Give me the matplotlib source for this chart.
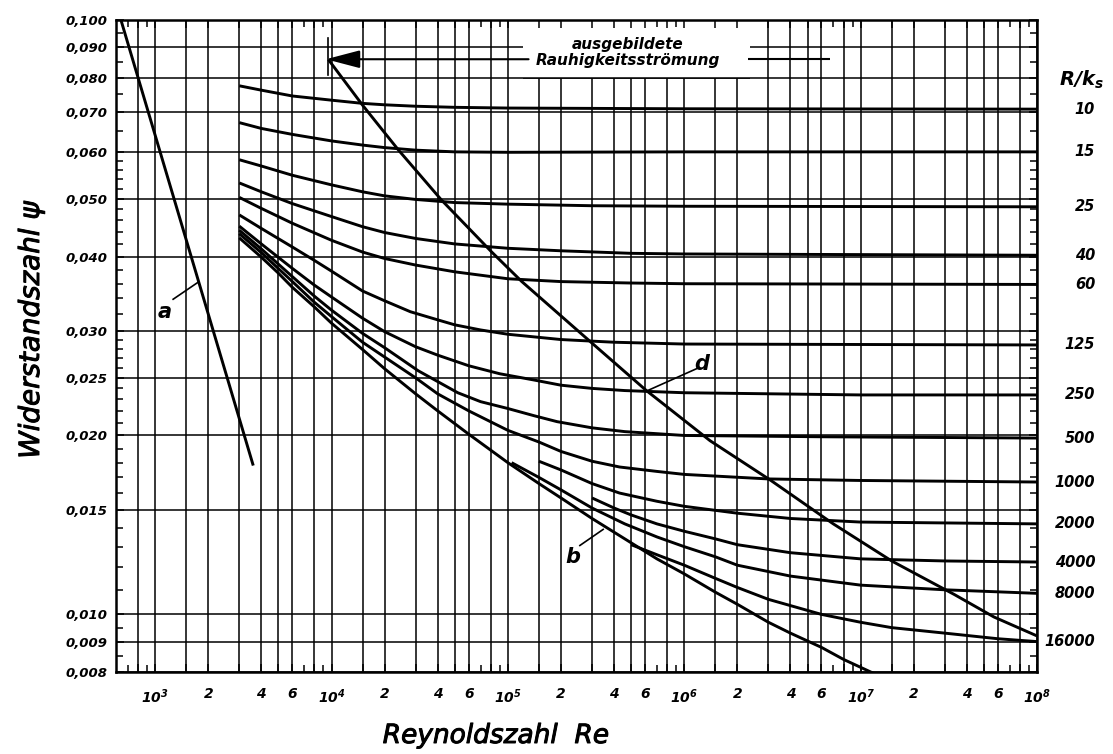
import matplotlib
matplotlib.use("Agg")
import matplotlib.pyplot as plt
import matplotlib.transforms as mtransforms
import matplotlib.patheffects as pe
from matplotlib.patches import Rectangle

plt.rcParams["font.family"] = ["DejaVu Sans"]
plt.rcParams["mathtext.fontset"] = "custom"
plt.rcParams["mathtext.rm"] = "DejaVu Sans:italic:bold"
plt.rcParams["mathtext.it"] = "DejaVu Sans:italic:bold"

# ---------------- data ----------------
# laminar line a
re_a = [640, 3600]
psi_a = [0.100, 0.0178]

# hydraulically smooth line b
re_b = [3e3, 4e3, 5e3, 6e3, 8e3, 1e4, 1.5e4, 2e4, 3e4, 4e4, 6e4, 1e5, 1.5e5,
        2e5, 3e5, 4.6e5, 7e5, 1e6, 1.5e6, 2e6, 3e6, 4e6, 6e6, 8e6, 1.25e7]
psi_b = [0.0430, 0.0399, 0.0375, 0.0355, 0.0329, 0.0309, 0.0279, 0.0259,
         0.0235, 0.0220, 0.0201, 0.0180, 0.0166, 0.0157, 0.0145, 0.0134,
         0.0124, 0.0117, 0.0109, 0.0104, 0.0097, 0.0093, 0.0088, 0.0084,
         0.0079]

# boundary of fully rough flow, line d
re_d = [9.6e3, 1.5e4, 2.4e4, 4.2e4, 8.1e4, 1.2e5, 3e5, 6.1e5, 1.4e6, 3.1e6,
        7e6, 1.5e7, 3.4e7, 5.7e7, 1e8]
psi_d = [0.0858, 0.0719, 0.0604, 0.0498, 0.0407, 0.0363, 0.0286, 0.0238,
         0.0196, 0.0168, 0.0142, 0.0123, 0.0108, 0.0099, 0.0092]

# relative roughness R/ks curves
rk_labels = ["10", "15", "25", "40", "60", "125", "250", "500", "1000",
             "2000", "4000", "8000", "16000"]

re_10 = [3e3, 4e3, 6e3, 1e4, 1.5e4, 2e4, 3e4, 5e4, 1e5, 1e6, 1e8]
psi_10 = [0.0775, 0.0762, 0.0745, 0.0733, 0.0724, 0.0720, 0.0716, 0.0713,
          0.0711, 0.0709, 0.0708]

re_15 = [3e3, 4e3, 6e3, 1e4, 1.5e4, 2e4, 3e4, 5e4, 1e5, 1e6, 1e8]
psi_15 = [0.0672, 0.0657, 0.0642, 0.0626, 0.0616, 0.0610, 0.0604, 0.0600,
          0.0599, 0.0600, 0.0600]

re_25 = [3e3, 4e3, 6e3, 1e4, 1.5e4, 2e4, 3e4, 5e4, 1e5, 3e5, 1e6, 1e8]
psi_25 = [0.0582, 0.0568, 0.0548, 0.0528, 0.0514, 0.0506, 0.0499, 0.0493,
          0.0490, 0.0487, 0.0486, 0.0485]

re_40 = [3e3, 4e3, 6e3, 1e4, 1.5e4, 2e4, 3e4, 5e4, 1e5, 2e5, 5e5, 1e6, 1e8]
psi_40 = [0.0532, 0.0514, 0.0491, 0.0467, 0.0449, 0.0439, 0.0429, 0.0420,
          0.0413, 0.0409, 0.0405, 0.0404, 0.0402]

re_60 = [3e3, 4e3, 6e3, 1e4, 1.5e4, 2e4, 3e4, 5e4, 1e5, 2e5, 5e5, 1e6, 1e8]
psi_60 = [0.0503, 0.0482, 0.0455, 0.0426, 0.0407, 0.0397, 0.0387, 0.0377,
          0.0367, 0.0363, 0.0361, 0.0360, 0.0359]

re_125 = [3e3, 4e3, 6e3, 8e3, 1e4, 1.5e4, 2e4, 2.8e4, 4e4, 5e4, 7e4, 1e5,
          2e5, 4e5, 1e6, 1e8]
psi_125 = [0.0470, 0.0446, 0.0415, 0.0394, 0.0378, 0.0350, 0.0337, 0.0323,
           0.0313, 0.0307, 0.0301, 0.0296, 0.0290, 0.0287, 0.0285, 0.0284]

re_250 = [3e3, 4e3, 6e3, 8e3, 1e4, 1.5e4, 2e4, 3e4, 4e4, 6e4, 9e4, 1.4e5,
          2e5, 3e5, 4.6e5, 1e6, 1e7, 1e8]
psi_250 = [0.0450, 0.0420, 0.0382, 0.0358, 0.0342, 0.0315, 0.0299, 0.0282,
           0.0273, 0.0262, 0.0254, 0.0248, 0.0243, 0.0240, 0.0238, 0.0236,
           0.0234, 0.0234]

re_500 = [3e3, 4e3, 6e3, 8e3, 1e4, 1.5e4, 2e4, 3.1e4, 5.2e4, 7e4, 1e5, 1.4e5,
          1.9e5, 3e5, 4.6e5, 1e6, 6e6, 1e8]
psi_500 = [0.0443, 0.0412, 0.0370, 0.0343, 0.0325, 0.0297, 0.0281, 0.0257,
           0.0236, 0.0228, 0.0222, 0.0216, 0.0211, 0.0206, 0.0203, 0.0200,
           0.0199, 0.0198]

re_1000 = [3e3, 4e3, 6e3, 8e3, 1e4, 1.5e4, 2e4, 3e4, 4e4, 6e4, 1e5, 1.5e5,
           2e5, 3e5, 4.3e5, 7e5, 1e6, 3e6, 1e7, 1e8]
psi_1000 = [0.0437, 0.0406, 0.0363, 0.0335, 0.0317, 0.0287, 0.0271, 0.0250,
            0.0235, 0.0220, 0.0204, 0.0195, 0.0188, 0.0181, 0.0177, 0.0174,
            0.0172, 0.0169, 0.0168, 0.0167]

re_2000 = [1.5e5, 2e5, 3e5, 4.3e5, 7e5, 1e6, 2e6, 4e6, 1e7, 1e8]
psi_2000 = [0.0181, 0.0175, 0.0166, 0.0160, 0.0155, 0.0152, 0.0148, 0.0145,
            0.0143, 0.0142]

re_4000 = [3e5, 4e5, 5e5, 7e5, 1e6, 1.5e6, 2e6, 4e6, 1e7, 3e7, 1e8]
psi_4000 = [0.0157, 0.0151, 0.0147, 0.0142, 0.0138, 0.0134, 0.0131, 0.0127,
            0.0124, 0.0123, 0.01225]

re_8000 = [1.05e5, 1.5e5, 2e5, 3e5, 4.6e5, 7e5, 1e6, 1.5e6, 2e6, 4e6, 1e7,
           3e7, 1e8]
psi_8000 = [0.0180, 0.0170, 0.0162, 0.0151, 0.0142, 0.0135, 0.0130, 0.0125,
            0.0121, 0.0116, 0.0112, 0.0110, 0.01085]

re_16000 = [5e5, 7e5, 1e6, 1.5e6, 2e6, 3e6, 6e6, 1e7, 1.5e7, 3e7, 6e7, 1e8]
psi_16000 = [0.0131, 0.0126, 0.0121, 0.0115, 0.0111, 0.0106, 0.0100, 0.0097,
             0.0095, 0.0093, 0.0091, 0.0090]

rk_curves = [(re_10, psi_10), (re_15, psi_15), (re_25, psi_25), (re_40, psi_40),
             (re_60, psi_60), (re_125, psi_125), (re_250, psi_250),
             (re_500, psi_500), (re_1000, psi_1000), (re_2000, psi_2000),
             (re_4000, psi_4000), (re_8000, psi_8000), (re_16000, psi_16000)]

# axis scales
y_grid = [0.008, 0.009, 0.010, 0.015, 0.020, 0.025, 0.030, 0.040, 0.050,
          0.060, 0.070, 0.080, 0.090, 0.100]
y_labels = ["0,008", "0,009", "0,010", "0,015", "0,020", "0,025", "0,030",
            "0,040", "0,050", "0,060", "0,070", "0,080", "0,090", "0,100"]
y_minor = [0.0085, 0.0095, 0.011, 0.012, 0.013, 0.014, 0.016, 0.017, 0.018,
           0.019, 0.021, 0.022, 0.023, 0.024, 0.026, 0.027, 0.028, 0.029,
           0.032, 0.034, 0.036, 0.038, 0.042, 0.044, 0.046, 0.048, 0.052,
           0.054, 0.056, 0.058, 0.065, 0.075, 0.085, 0.095]

x_grid_steps = [1, 1.5, 2, 3, 4, 5, 6, 8]

# ---------------- figure ----------------
W, H = 1113, 754
fig = plt.figure(figsize=(W / 100, H / 100), dpi=100)
ax = fig.add_axes([116 / W, 1 - 672 / H, (1037 - 116) / W, (672 - 20) / H])
ax.set_xscale("log")
ax.set_yscale("log")
ax.set_xlim(600, 1e8)
ax.set_ylim(0.008, 0.100)

LW_GRID = 1.1
LW_CURVE = 2.1

# grid lines
x_grid = []
x_ticklabels = []
for dec in range(2, 9):
    for m in x_grid_steps:
        v = m * 10 ** dec
        if 700 <= v <= 1e8:
            x_grid.append(v)
            if m == 1:
                x_ticklabels.append(r"$10^{%d}$" % dec)
            elif m in (2, 4, 6):
                x_ticklabels.append(str(m))
            else:
                x_ticklabels.append("")
for v in x_grid:
    ax.axvline(v, color="k", lw=LW_GRID, zorder=1)
for v in y_grid:
    ax.axhline(v, color="k", lw=LW_GRID, zorder=1)

x_minor = []
for dec in range(2, 8):
    for m in (7, 9):
        v = m * 10 ** dec
        if 600 <= v <= 1e8:
            x_minor.append(v)

ax.set_xticks(x_grid)
ax.set_xticklabels(x_ticklabels)
ax.set_xticks(x_minor, minor=True)
ax.set_xticklabels([""] * len(x_minor), minor=True)
ax.set_yticks(y_grid)
ax.set_yticklabels(y_labels)
ax.set_yticks(y_minor, minor=True)
ax.set_yticklabels([""] * len(y_minor), minor=True)

ax.tick_params(which="both", direction="in", top=True, right=True,
               color="k", width=1.1)
ax.tick_params(which="major", length=6)
ax.tick_params(which="minor", length=5)
ax.tick_params(axis="x", which="major", pad=11, labelsize=10)
ax.tick_params(axis="y", which="major", pad=6, labelsize=9.5)
for lab in ax.get_yticklabels():
    lab.set_fontstyle("italic")
    lab.set_fontweight("bold")
for lab in ax.get_xticklabels():
    lab.set_fontstyle("italic")
    lab.set_fontweight("bold")
ax.set_axisbelow(False)
for sp in ax.spines.values():
    sp.set_linewidth(1.8)
    sp.set_zorder(5)

# white field for the caption of the rough-flow boundary
ax.add_patch(Rectangle((1.22e5, 0.080), 2.36e6 - 1.22e5, 0.1 - 0.080,
                       facecolor="white", edgecolor="none", zorder=1.6))
# keep the 0,08 grid line below the caption
ax.hlines(0.080, 1.22e5, 2.36e6, color="k", lw=LW_GRID, zorder=1.7)

# curves
ax.plot(re_a, psi_a, color="k", lw=LW_CURVE, zorder=3, solid_capstyle="butt")
ax.plot(re_b, psi_b, color="k", lw=LW_CURVE, zorder=3, solid_capstyle="butt",
        solid_joinstyle="round")
ax.plot(re_d, psi_d, color="k", lw=LW_CURVE, zorder=3, solid_capstyle="butt",
        solid_joinstyle="round")
for re_c, psi_c in rk_curves:
    ax.plot(re_c, psi_c, color="k", lw=LW_CURVE, zorder=3,
            solid_capstyle="butt", solid_joinstyle="round")

# curve labels with leaders
lab_kw = dict(fontsize=15, fontstyle="italic", fontweight="bold",
              ha="center", va="center", zorder=4)
ax.text(1.14e3, 0.0323, "a", **lab_kw)
ax.plot([1.265e3, 1.75e3], [0.0339, 0.0362], color="k", lw=1.2, zorder=3)
ax.text(2.35e5, 0.01249, "b", **lab_kw)
ax.plot([2.56e5, 3.47e5], [0.01306, 0.01390], color="k", lw=1.2, zorder=3)
ax.text(1.26e6, 0.02642, "d", **lab_kw)
ax.plot([6.26e5, 1.18e6], [0.02383, 0.02592], color="k", lw=1.2, zorder=3)

# caption and arrow pointing to the start of line d
ax.annotate("", xy=(9.3e3, 0.0859), xytext=(1.31e5, 0.0859),
            arrowprops=dict(arrowstyle="-|>,head_length=2.1,head_width=0.55",
                            mutation_scale=10, lw=1.5, color="k",
                            shrinkA=0, shrinkB=0), zorder=4)
ax.plot([9.6e3, 9.6e3], [0.0808, 0.0933], color="k", lw=1.2, zorder=4)
ax.hlines(0.0859, 2.29e6, 6.7e6, color="k", lw=1.5, zorder=4)
ax.text(4.8e5, 0.0908, "ausgebildete", fontsize=11, fontstyle="italic",
        fontweight="bold", ha="center", va="center", zorder=4)
ax.text(4.8e5, 0.0855, "Rauhigkeitsströmung", fontsize=11,
        fontstyle="italic", fontweight="bold", ha="center", va="center",
        zorder=4)

# R/ks labels on the right
rt = mtransforms.blended_transform_factory(ax.transAxes, ax.transData)
for name, (re_c, psi_c) in zip(rk_labels, rk_curves):
    ax.text(1.063, psi_c[-1], name, transform=rt, ha="right", va="center",
            fontsize=10.5, fontstyle="italic", fontweight="bold")
ax.text(1.048, 0.908, r"$R/k_s$", transform=ax.transAxes, ha="center",
        va="center", fontsize=14)

# axis titles, drawn in a medium weight
medium = [pe.withStroke(linewidth=0.7, foreground="k")]
fig.text(31 / W, 1 - 330 / H, "Widerstandszahl ψ", rotation=90,
         ha="center", va="center", fontsize=20, fontstyle="italic",
         path_effects=medium)
fig.text(496 / W, 1 - 736 / H, "Reynoldszahl  Re", ha="center",
         va="center", fontsize=19, fontstyle="italic", path_effects=medium)

fig.savefig("out.png", dpi=100)
